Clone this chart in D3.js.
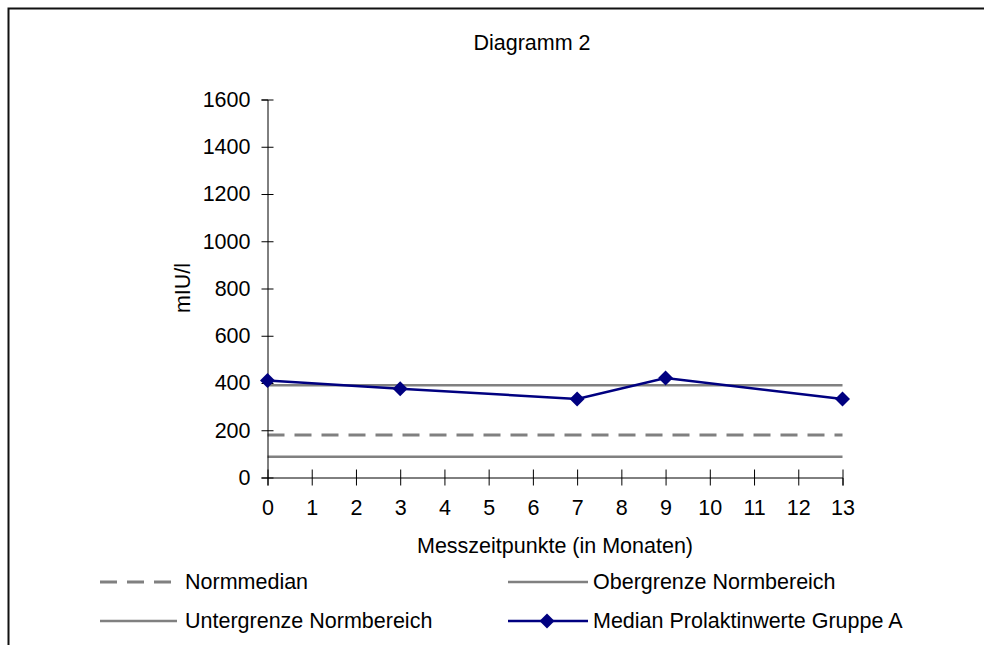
<!DOCTYPE html>
<html>
<head>
<meta charset="utf-8">
<script src="https://cdn.jsdelivr.net/npm/d3@7"></script>
<style>
  html, body { margin: 0; padding: 0; background: #fff; overflow: hidden; }
  svg { display: block; }
  text { font-family: "Liberation Sans", Arial, sans-serif; fill: #000; }
</style>
</head>
<body>
<svg id="chart" width="984" height="645"></svg>
<script>
// Measurement months and values (mIU/l)
const months = [0, 3, 7, 9, 13];
const medianGroupA = [411, 376, 332, 421, 332];
const obergrenze = 390;   // upper limit of normal range
const normmedian = 180;   // normal median
const untergrenze = 88;   // lower limit of normal range
const xTicks = d3.range(0, 14);
const yTicks = [0, 200, 400, 600, 800, 1000, 1200, 1400, 1600];

const title = "Diagramm 2";
const xTitle = "Messzeitpunkte (in Monaten)";
const yTitle = "mIU/l";
const legendLabels = ["Normmedian", "Obergrenze Normbereich", "Untergrenze Normbereich", "Median Prolaktinwerte Gruppe A"];

const svg = d3.select("#chart");
const fontSize = 21.5;
const grey = "#808080";
const navy = "#000080";
const font = "Liberation Sans, Arial, sans-serif";

// Outer frame
svg.append("rect")
  .attr("x", 8.5).attr("y", 8.5)
  .attr("width", 1000).attr("height", 700)
  .attr("fill", "none").attr("stroke", "#111").attr("stroke-width", 2);

const x = d3.scaleLinear().domain([0, 13]).range([267.5, 842.5]);
const y = d3.scaleLinear().domain([0, 1600]).range([477.5, 99.5]);

// Title
svg.append("text")
  .attr("x", 532).attr("y", 43)
  .attr("text-anchor", "middle").attr("dominant-baseline", "central")
  .style("font-size", fontSize + "px")
  .text(title);

// Reference lines
const refLines = [
  { v: untergrenze, dash: null, w: 2.5 },
  { v: normmedian, dash: "17,10", w: 3 },
  { v: obergrenze, dash: null, w: 2.5 }
];
svg.selectAll("line.ref").data(refLines).enter().append("line")
  .attr("class", "ref")
  .attr("x1", x(0)).attr("x2", x(13))
  .attr("y1", d => y(d.v)).attr("y2", d => y(d.v))
  .attr("stroke", grey)
  .attr("stroke-width", d => d.w)
  .attr("stroke-dasharray", d => d.dash);

// Y axis
const yAxis = d3.axisLeft(y).tickValues(yTicks).tickFormat(d3.format("d")).tickSize(6).tickPadding(12);
const gy = svg.append("g").attr("transform", `translate(${x(0)},0)`).call(yAxis);
gy.select(".domain").attr("stroke", "#000");
gy.selectAll(".tick line").attr("x2", -6).attr("x1", 6).attr("stroke", "#000");
gy.selectAll(".tick text").style("font-size", fontSize + "px").style("font-family", font).attr("x", -17);

// X axis
const xAxis = d3.axisBottom(x).tickValues(xTicks).tickFormat(d3.format("d")).tickSize(8).tickPadding(12);
const gx = svg.append("g").attr("transform", `translate(0,${y(0)})`).call(xAxis);
gx.select(".domain").attr("stroke", "#000");
gx.selectAll(".tick line").attr("y1", -8).attr("y2", 8).attr("stroke", "#000");
gx.selectAll(".tick text").style("font-size", fontSize + "px").style("font-family", font).attr("y", 22);

// Axis titles
svg.append("text")
  .attr("x", 555).attr("y", 546)
  .attr("text-anchor", "middle").attr("dominant-baseline", "central")
  .style("font-size", fontSize + "px")
  .text(xTitle);
svg.append("text")
  .attr("transform", "translate(183,288) rotate(-90)")
  .attr("text-anchor", "middle").attr("dominant-baseline", "central")
  .style("font-size", fontSize + "px")
  .text(yTitle);

// Median series
const series = months.map((m, i) => ({ m, v: medianGroupA[i] }));
svg.append("path")
  .datum(series)
  .attr("fill", "none")
  .attr("stroke", navy)
  .attr("stroke-width", 2.5)
  .attr("d", d3.line().x(d => x(d.m)).y(d => y(d.v)));

const diamondPath = "M0,-7.5L7.5,0L0,7.5L-7.5,0Z";
svg.selectAll("path.marker").data(series).enter().append("path")
  .attr("class", "marker")
  .attr("transform", d => `translate(${x(d.m)},${y(d.v)})`)
  .attr("d", diamondPath)
  .attr("fill", navy);

// Legend
const legend = [
  { label: legendLabels[0], x: 100, y: 582, w: 75, type: "dash" },
  { label: legendLabels[1], x: 508, y: 582, w: 80, type: "solid" },
  { label: legendLabels[2], x: 100, y: 621, w: 77, type: "solid" },
  { label: legendLabels[3], x: 508, y: 621, w: 80, type: "marker" }
];
const lg = svg.selectAll("g.legend").data(legend).enter().append("g")
  .attr("class", "legend")
  .attr("transform", d => `translate(${d.x},${d.y})`);
lg.append("line")
  .attr("x1", 0).attr("x2", d => d.w)
  .attr("y1", 0).attr("y2", 0)
  .attr("stroke", d => d.type === "marker" ? navy : grey)
  .attr("stroke-width", d => d.type === "dash" ? 3 : 2.5)
  .attr("stroke-dasharray", d => d.type === "dash" ? "17,10" : null);
lg.filter(d => d.type === "marker").append("path")
  .attr("transform", "translate(39,0)")
  .attr("d", diamondPath)
  .attr("fill", navy);
lg.append("text")
  .attr("x", d => d.x < 300 ? 85 : 85)
  .attr("y", 0)
  .attr("dominant-baseline", "central")
  .style("font-size", fontSize + "px")
  .text(d => d.label);
</script>
</body>
</html>
